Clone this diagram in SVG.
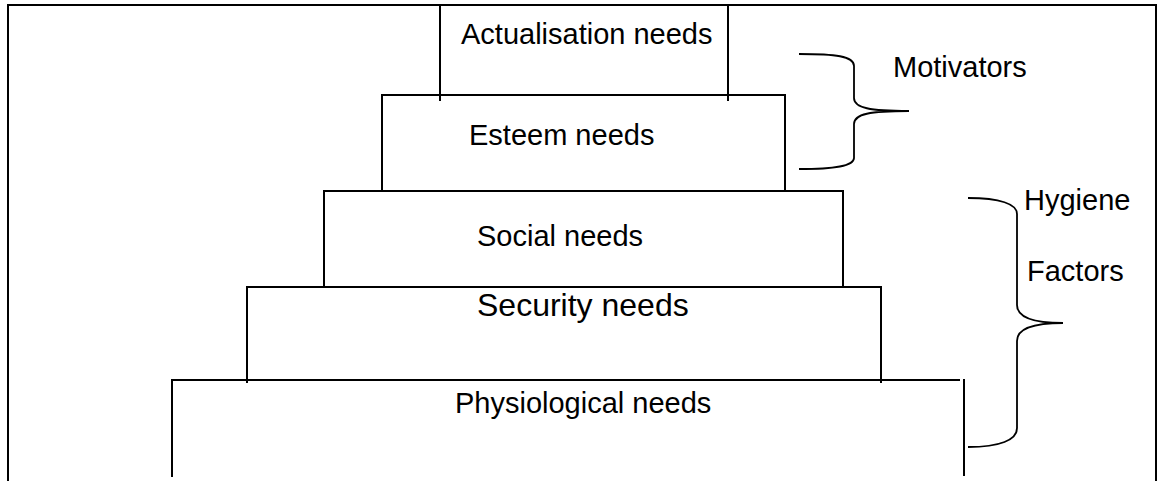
<svg xmlns="http://www.w3.org/2000/svg" width="1161" height="481" viewBox="0 0 1161 481">
<style>
.ln{fill:none;stroke:#000;stroke-width:2;stroke-linecap:butt}
.br{fill:none;stroke:#000;stroke-width:1.8}
.t{font-family:"Liberation Sans",Arial,sans-serif;font-size:29px;fill:#000}
.big{font-size:32px}
</style>
<rect width="1161" height="481" fill="#fff"/>
<g id="frame"><path class="ln" d="M8,481 V5 H1156 V481"/></g>
<g id="actualisation">
<path class="ln" d="M440,5 V101 M728,5 V101"/>
<text class="t" x="461" y="44">Actualisation needs</text>
</g>
<g id="esteem">
<path class="ln" d="M382,191 V95 H785 V191"/>
<text class="t" x="469" y="145">Esteem needs</text>
</g>
<g id="social">
<path class="ln" d="M324,287 V191 H843 V287"/>
<text class="t" x="477" y="246">Social needs</text>
</g>
<g id="security">
<path class="ln" d="M247,383 V287 H881 V383"/>
<text class="t big" x="477" y="316">Security needs</text>
</g>
<g id="physiological">
<path class="ln" d="M172,477 V380 H960 M964,379 V476"/>
<text class="t" x="455" y="413">Physiological needs</text>
</g>
<g id="connectors">
<path class="br" d="M799,54 C835,54 854,56 854,66 V98 C854,108 870,111 909,111 C870,111 854,114 854,124 V158 C854,166 835,169 799,169"/>
<path class="br" d="M968,198 C1000,198 1017,204 1017,214 V305 C1017,316 1030,323 1063,323 C1030,323 1017,330 1017,341 V428 C1017,440 1000,447 968,447"/>
</g>
<g id="motivators"><text class="t" x="893" y="77">Motivators</text></g>
<g id="hygiene">
<text class="t" x="1024" y="210">Hygiene</text>
<text class="t" x="1027" y="281">Factors</text>
</g>
</svg>
